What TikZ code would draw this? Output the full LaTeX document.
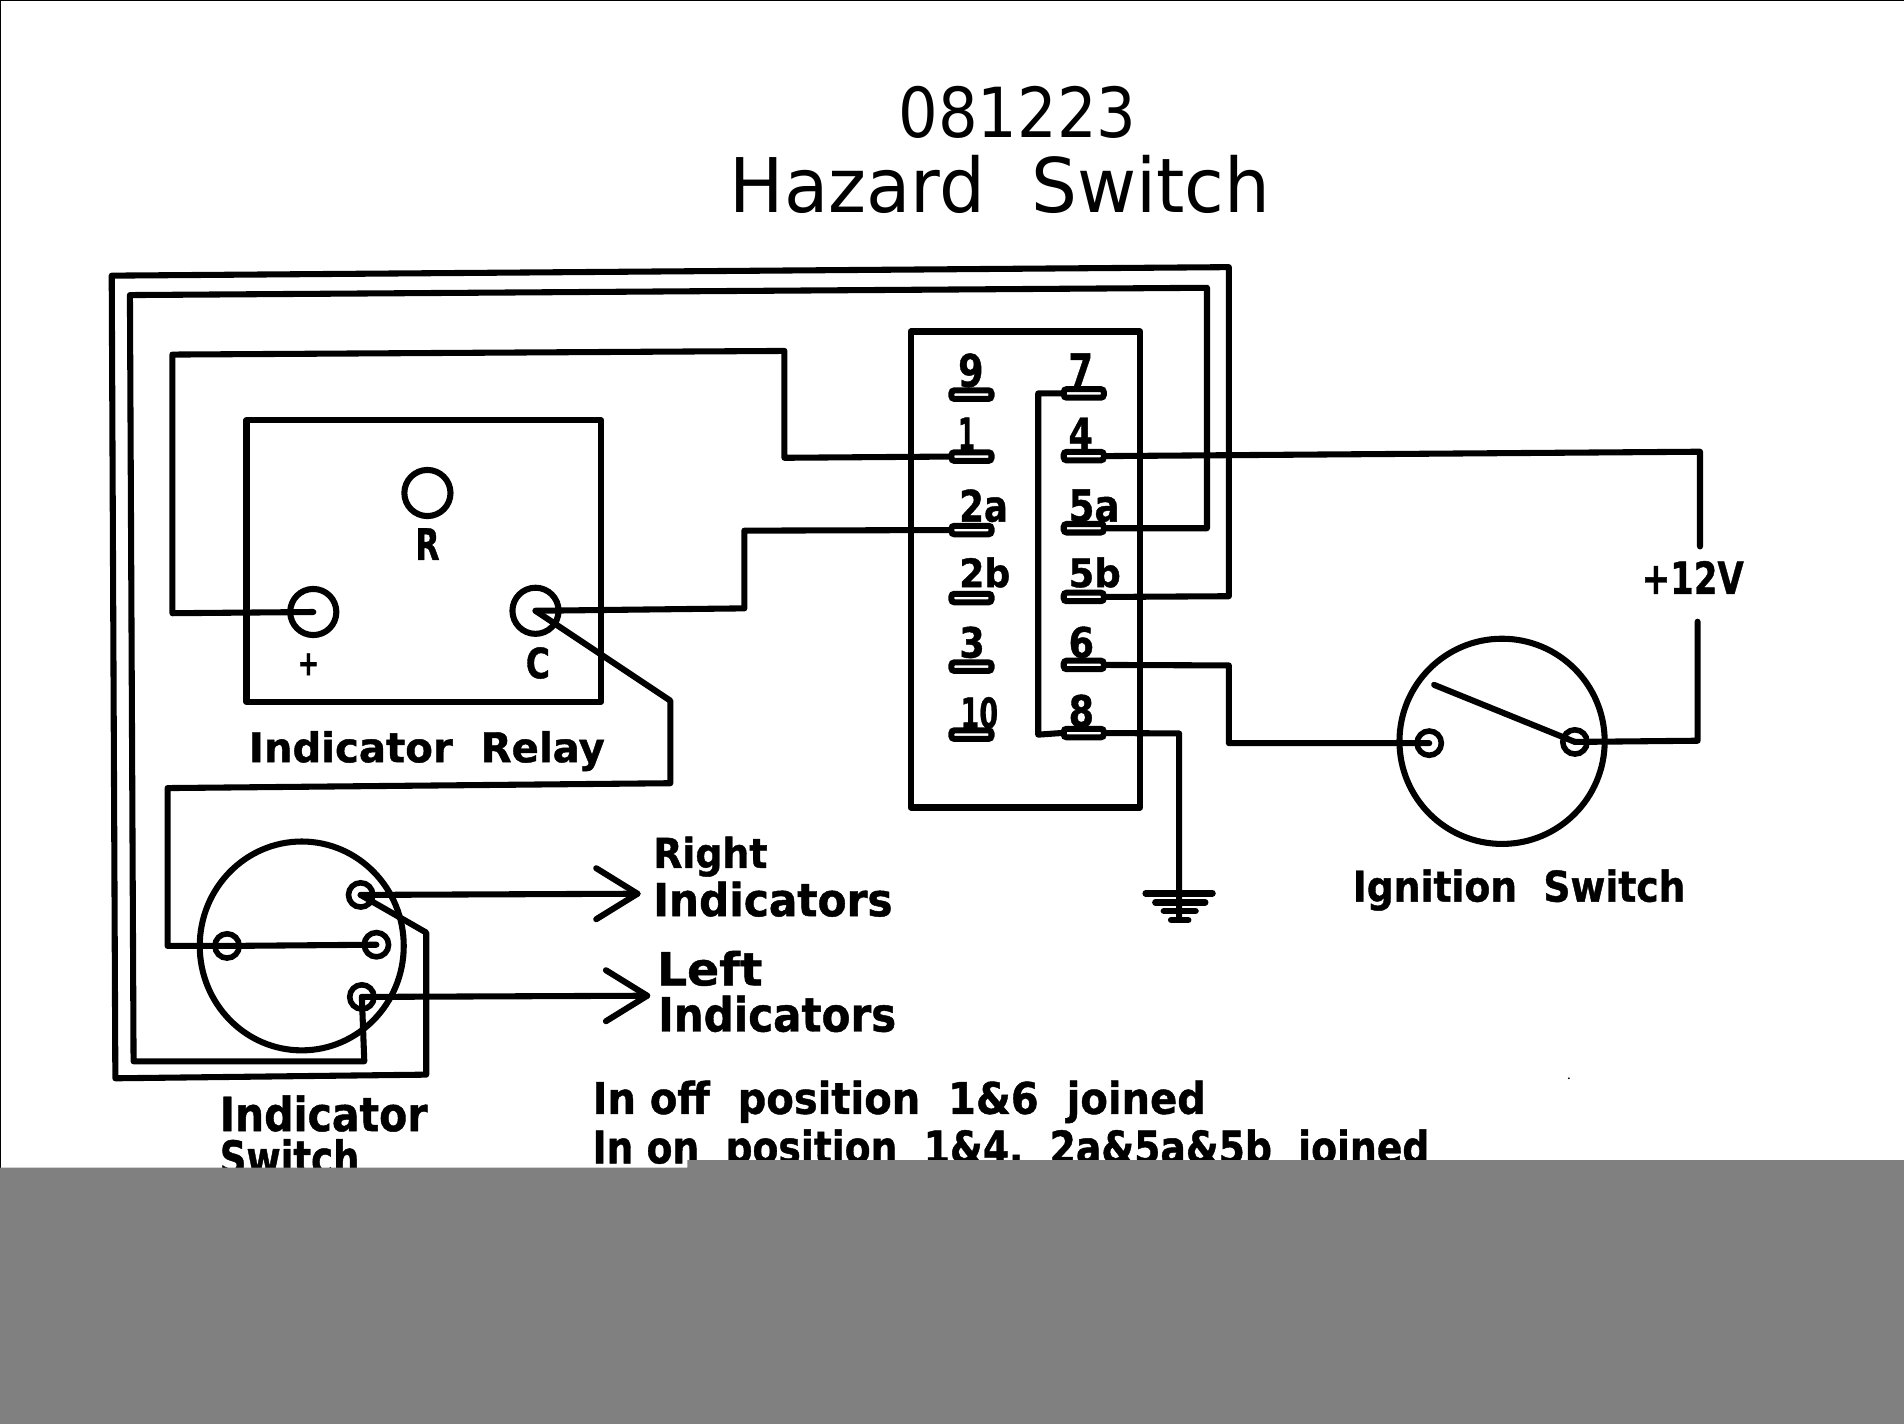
\documentclass[tikz,border=0pt]{standalone}
\usepackage{graphicx}
\usepackage{fontspec}
\setmainfont[BoldFeatures={FakeBold=1}]{DejaVu Sans}
\usetikzlibrary{shapes.geometric,calc}
\newlength\unitU
\setlength\unitU{0.05cm}
\tikzset{
  wire/.style={line width=0.25cm,line cap=round,line join=round,black},
  thinbar/.style={line width=0.27cm,line cap=round,black},
  boxn/.style={draw,rectangle,line width=0.25cm,inner sep=0pt,line join=round},
  pinbox/.style={draw,rectangle,rounded corners=0.12cm,line width=0.25cm,inner sep=0pt,
    minimum width=33*0.05cm,minimum height=7*0.05cm},
  term/.style={draw,circle,line width=0.23cm,inner sep=0pt,minimum size=20*0.05cm},
  bigterm/.style={draw,circle,line width=0.25cm,inner sep=0pt,minimum size=38*0.05cm},
  dial/.style={draw,ellipse,line width=0.25cm,inner sep=0pt},
  lab/.style={inner sep=0pt,outer sep=0pt,anchor=north west,font=\bfseries},
  ttl/.style={inner sep=0pt,outer sep=0pt,anchor=north west,font=\normalfont},
}
\newcommand\lbl[7][lab]{%
  \pgfmathsetmacro\lblW{#5-#3}\pgfmathsetmacro\lblH{#6-#4}%
  \node[#1] (#2) at (#3,#4) {\resizebox*{\lblW\unitU}{\lblH\unitU}{#7}};}
\begin{document}
\begin{tikzpicture}[x=0.05cm,y=-0.05cm]
\useasboundingbox (0,0) rectangle (1568,1172.7);
\fill[white] (0,0) rectangle (1568,1172.7);
\draw[line width=0.04cm] (0,1172.7) -- (0,0) -- (1568,0);
\fill (1292,888) circle (0.8);

% title
\lbl[ttl]{title1}{740}{71}{936}{114}{081223}
\lbl[ttl]{title2}{601}{128}{1046}{176}{Hazard~~Switch}

% relay
\node[boxn,minimum width=292*0.05cm,minimum height=232*0.05cm] (relay) at (349,462) {};
\node[bigterm] (tR) at (352,406) {};
\node[bigterm] (tP) at (258,504) {};
\node[bigterm] (tC) at (441,503) {};
\lbl{lR}{342}{435}{362}{461}{R}
\lbl{lP}{245}{538}{263}{556}{+}
\lbl{lC}{433}{533}{453}{559}{C}
\lbl{lrelay}{205}{602}{498}{635}{Indicator~~Relay}

% connector block
\node[boxn,minimum width=189*0.05cm,minimum height=392*0.05cm] (block) at (844.5,469) {};
\foreach \n/\xx/\yy in {p9/800/325,p1/800/376,p2a/800/436.5,p2b/800/492.5,p3/800/549,p10/800/605,
  p7/892.5/324,p4/892.5/375.6,p5a/892.5/435,p5b/892.5/491.6,p6/892.5/547.6,p8/892.5/603.7}
  \node[pinbox] (\n) at (\xx,\yy) {};
\lbl{l9}{789}{291}{810}{319}{9}
\lbl{l1}{789}{344}{803}{371}{1}
\lbl{l2a}{790}{403}{830}{430}{2a}
\lbl{l2b}{790}{459}{832}{484}{2b}
\lbl{l3}{790}{516}{811}{542}{3}
\lbl{l10}{791}{574}{822}{600}{10}
\lbl{l7}{880}{291}{900}{319}{7}
\lbl{l4}{880}{344}{900}{370}{4}
\lbl{l5a}{880}{403}{922}{430}{5a}
\lbl{l5b}{880}{459}{923}{484}{5b}
\lbl{l6}{880}{516}{901}{542}{6}
\lbl{l8}{880}{572}{901}{599}{8}

% indicator switch
\node[dial,minimum width=168*0.05cm,minimum height=172*0.05cm] (isw) at (248.5,779) {};
\node[term] (iR) at (297,737) {};
\node[term] (iM) at (310,778) {};
\node[term] (iB) at (187,779) {};
\node[term] (iL) at (298,821) {};
\lbl{lisw1}{181}{902}{352}{932}{Indicator}
\lbl{lisw2}{181}{938}{296}{968}{Switch}

% arrows
\coordinate (aR) at (525,736);
\coordinate (aL) at (533,820);
\draw[wire] (iR.center) -- (aR);
\draw[wire] (491,715) -- (aR) -- (491,757);
\draw[wire] (iL.center) -- (aL);
\draw[wire] (499,799) -- (aL) -- (499,841);
\lbl{lright1}{538}{689}{632}{722}{Right}
\lbl{lright2}{538}{726}{735}{755}{Indicators}
\lbl{lleft1}{541}{783}{628}{812}{Left}
\lbl{lleft2}{542}{820}{738}{850}{Indicators}

% ignition switch
\node[draw,circle,line width=0.25cm,inner sep=0pt,minimum size=169*0.05cm] (ign) at (1237,610.5) {};
\node[term] (gL) at (1177,612) {};
\node[term] (gR) at (1297,611) {};
\coordinate (blade) at (1181,564);
\draw[wire] (blade) -- (gR.center);
\lbl{lign}{1114}{716}{1388}{750}{Ignition~~Switch}
\lbl{lv}{1352}{462}{1436}{489}{+12V}

% ground
\coordinate (gnd) at (971,757.6);
\node[inner sep=0pt,minimum size=0pt] (gndn) at (gnd) {};
\draw[thinbar] (943.5,735.6) -- (998.5,735.6);
\draw[thinbar] (951.5,743) -- (992.5,743);
\draw[thinbar] (958.5,750.2) -- (984.5,750.2);
\draw[thinbar] (964.5,757.6) -- (978.5,757.6);

% wires
\draw[wire] (tP.center) -- (142,505) -- (142,292) -- (646,289) -- (646,377) -- (p1.west);
\draw[wire] (tC.center) -- (613,501) -- (613,437) -- (p2a.west);
\draw[wire] (tC.center) -- (552,577) -- (552,645) -- (138,649) -- (138,779) -- (iB.center) -- (iM.center);
\draw[wire] (iR.center) -- (351,768) -- (351,885) -- (95,888) -- (92,227) -- (1012,220) -- (1012,491) -- (p5b.east);
\draw[wire] (iL.center) -- (300,874) -- (110,874) -- (107,243) -- (994,237) -- (994,435) -- (p5a.east);
\draw[wire] (p7.west) -- (855,324) -- (855,605) -- (p8.west);
\draw[wire] (p4.east) -- (1400,372) -- (1400,450);
\draw[wire] (1398,512) -- (1398,610) -- (gR.center);
\draw[wire] (p6.east) -- (1012,548) -- (1012,612) -- (gL.center);
\draw[wire] (p8.east) -- (971,604) -- (gndn.center);

% in-picture notes
\lbl{lnote1}{488}{890}{993}{925}{In~off~~position~~1\&6~~joined}
\lbl{lnote2}{488}{930}{1177}{966}{In~on~~position~~1\&4,~~2a\&5a\&5b~~joined}

% grey band
\fill[fill={rgb,255:red,128;green,128;blue,128}] (0,961.6) -- (566,961.6) -- (566,955.3) -- (1568,955.3) -- (1568,1172.7) -- (0,1172.7) -- cycle;
\end{tikzpicture}
\end{document}
